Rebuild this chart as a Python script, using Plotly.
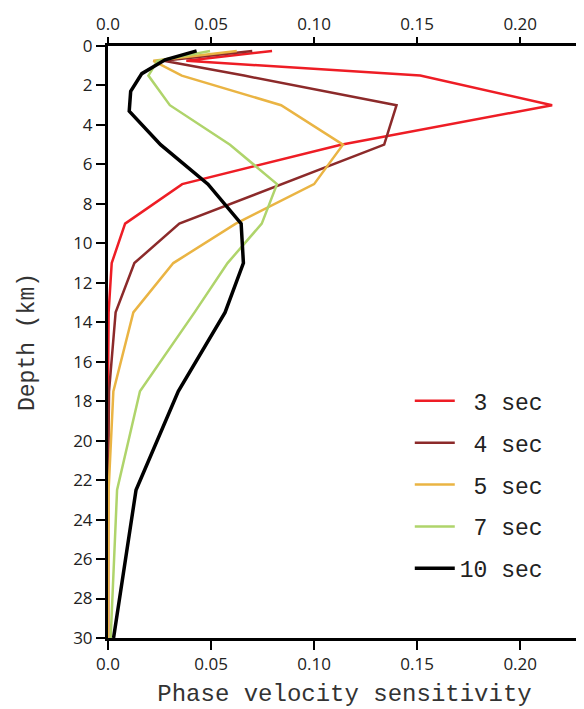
import plotly.graph_objects as go

# ---- data ----
series_names = ["\u00a03 sec", "\u00a04 sec", "\u00a05 sec", "\u00a07 sec", "10 sec"]

depth_3s = [0.25, 0.75, 1.5, 3, 5, 7, 9, 11, 13.5, 17.5, 22.5, 30]
sens_3s = [0.0796, 0.038, 0.1515, 0.2155, 0.113, 0.036, 0.0083, 0.0018, 0.0003, 0.0, 0.0, 0.0]

depth_4s = [0.25, 0.75, 1.5, 3, 5, 7, 9, 11, 13.5, 17.5, 22.5, 30]
sens_4s = [0.070, 0.027, 0.066, 0.140, 0.134, 0.084, 0.0346, 0.0128, 0.0037, 0.0005, 0.0, 0.0]

depth_5s = [0.25, 0.75, 1.5, 3, 5, 7, 9, 11, 13.5, 17.5, 22.5, 30]
sens_5s = [0.0625, 0.022, 0.0358, 0.084, 0.114, 0.100, 0.062, 0.0317, 0.0123, 0.0026, 0.0003, 0.0]

depth_7s = [0.25, 0.75, 1.5, 3, 5, 7, 9, 11, 13.5, 17.5, 22.5, 30]
sens_7s = [0.0495, 0.024, 0.0196, 0.030, 0.0592, 0.082, 0.0746, 0.058, 0.042, 0.0155, 0.0044, 0.0013]

depth_10s = [0.25, 0.7, 1.4, 2.3, 3.3, 5, 7, 9, 11, 13.5, 17.5, 22.5, 30]
sens_10s = [0.043, 0.0277, 0.0164, 0.011, 0.0103, 0.0255, 0.0485, 0.0646, 0.0657, 0.0568, 0.0341, 0.0136, 0.0027]

x_tickvals = [0, 0.05, 0.10, 0.15, 0.20]
x_ticktext = ["0.0", "0.05", "0.10", "0.15", "0.20"]
y_tickvals = list(range(0, 31, 2))

colors = ["#EE1D25", "#8C2A2A", "#EAB443", "#AFD46B", "#000000"]
widths = [2.5, 2.5, 2.5, 2.5, 3.5]

all_depths = [depth_3s, depth_4s, depth_5s, depth_7s, depth_10s]
all_sens = [sens_3s, sens_4s, sens_5s, sens_7s, sens_10s]

fig = go.Figure()
for i, (name, d, s, c, w) in enumerate(zip(series_names, all_depths, all_sens, colors, widths)):
    fig.add_trace(go.Scatter(x=s, y=d, mode="lines", name=name, legendgroup=f"g{i}",
                             line=dict(color=c, width=w)))

# invisible helper trace so the top x axis is drawn
fig.add_trace(go.Scatter(x=[0], y=[0], xaxis="x2", mode="markers",
                         marker=dict(opacity=0), showlegend=False, hoverinfo="skip"))

xr = [0, 0.2295]
tick_font = dict(family="Open Sans", size=17, color="#222222")
title_font = dict(family="Liberation Mono", size=24, color="#333333")

# page body adds an 8px offset, so the figure is sized to fill the rest of the window
fig.update_layout(
    width=576, height=701,
    margin=dict(l=100, r=3, t=38, b=71, autoexpand=False),
    paper_bgcolor="white", plot_bgcolor="white",
    showlegend=True,
    legend=dict(x=0.638, y=0.437, xanchor="left", yanchor="top",
                font=dict(family="Liberation Mono", size=23, color="#222222"),
                bgcolor="rgba(0,0,0,0)", itemwidth=40, tracegroupgap=9),
    xaxis=dict(range=xr, tickvals=x_tickvals, ticktext=x_ticktext,
               ticks="outside", ticklen=9, tickwidth=2, tickcolor="black",
               showline=True, linewidth=3, linecolor="black", mirror=True,
               showgrid=False, zeroline=False, tickfont=tick_font, automargin=False,
               title=dict(text="Phase velocity sensitivity", font=title_font, standoff=10)),
    xaxis2=dict(range=xr, overlaying="x", side="top", tickvals=x_tickvals,
                ticktext=x_ticktext, ticks="outside", ticklen=8, tickwidth=1.5,
                tickcolor="black", showline=False, showgrid=False, zeroline=False,
                tickfont=tick_font, automargin=False),
    yaxis=dict(range=[30, 0], tickvals=y_tickvals, ticks="outside", ticklen=9,
               tickwidth=2, tickcolor="black", showline=True, linewidth=3,
               linecolor="black", mirror=True, showgrid=False, zeroline=False,
               tickfont=tick_font, automargin=False,
               title=dict(text="Depth (km)", font=dict(family="Liberation Mono", size=23, color="#333333"), standoff=33)),
)

fig.write_html("out.html")
